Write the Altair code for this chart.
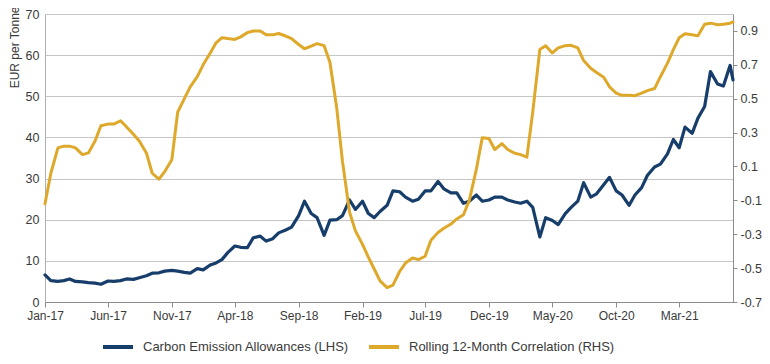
import altair as alt
import pandas as pd

# Semi-monthly observation dates (1st and 15th), Jan-2017 .. early Jul-2021
DATES = [f"{y}-{m:02d}-{d:02d}" for y in range(2017, 2022) for m in range(1, 13) for d in (1, 15)][:109] + ["2021-07-08"]

CEA = [6.6, 5.2, 5.0, 5.2, 5.6, 5.0, 4.9, 4.7, 4.6, 4.3,
       5.1, 5.0, 5.2, 5.6, 5.5, 5.9, 6.4, 7.0, 7.1, 7.5,
       7.7, 7.5, 7.2, 7.0, 8.1, 7.8, 9.0, 9.5, 10.3, 12.0,
       13.6, 13.3, 13.2, 15.6, 16.0, 14.8, 15.4, 16.8, 17.5, 18.2,
       21.0, 24.5, 21.5, 20.5, 16.2, 19.9, 20.0, 21.0, 24.8, 22.5,
       24.5, 21.5, 20.5, 22.0, 23.5, 27.0, 26.8, 25.5, 24.5, 25.0,
       27.0, 27.0, 29.3, 27.5, 26.5, 26.5, 24.0, 24.5, 26.0, 24.5,
       24.8, 25.5, 25.5, 24.8, 24.3, 24.0, 24.5, 23.0, 15.8, 20.5,
       19.8, 18.8, 21.5, 23.0, 24.5, 29.0, 25.5, 26.3, 28.5, 30.3,
       27.0, 26.0, 23.5, 26.0, 27.8, 30.8, 32.8, 33.5, 36.0, 39.5,
       37.5, 42.5, 41.0, 44.7, 47.5, 56.0, 53.0, 52.5, 57.5, 54.0]

CORR = [-0.12, 0.06, 0.21, 0.22, 0.22, 0.21, 0.17, 0.18, 0.25, 0.34,
        0.35, 0.35, 0.37, 0.335, 0.29, 0.25, 0.18, 0.06, 0.025, 0.07,
        0.14, 0.42, 0.50, 0.57, 0.63, 0.70, 0.77, 0.83, 0.86, 0.855,
        0.85, 0.865, 0.89, 0.90, 0.90, 0.877, 0.877, 0.885, 0.87, 0.855,
        0.82, 0.795, 0.81, 0.825, 0.813, 0.714, 0.45, 0.13, -0.17, -0.28,
        -0.36, -0.435, -0.505, -0.575, -0.615, -0.60, -0.52, -0.47, -0.44, -0.45,
        -0.43, -0.335, -0.29, -0.265, -0.24, -0.21, -0.185, -0.10, 0.085, 0.27,
        0.265, 0.20, 0.235, 0.20, 0.178, 0.17, 0.155, 0.42, 0.79, 0.813,
        0.77, 0.80, 0.813, 0.815, 0.80, 0.725, 0.68, 0.655, 0.627, 0.57,
        0.533, 0.52, 0.52, 0.518, 0.533, 0.548, 0.56, 0.63, 0.71, 0.79,
        0.86, 0.883, 0.877, 0.871, 0.94, 0.946, 0.937, 0.94, 0.946, 0.953]

SERIES = ["Carbon Emission Allowances (LHS)", "Rolling 12-Month Correlation (RHS)"]
COLORS = ["#173e6b", "#dea92b"]
LEFT_TICKS = [0, 10, 20, 30, 40, 50, 60, 70]
RIGHT_TICKS = [-0.7, -0.5, -0.3, -0.1, 0.1, 0.3, 0.5, 0.7, 0.9]
X_TICKS = [(2017, 1), (2017, 6), (2017, 11), (2018, 4), (2018, 9), (2019, 2),
           (2019, 7), (2019, 12), (2020, 5), (2020, 10), (2021, 3)]

df = pd.DataFrame({"date": DATES, "cea": CEA, "corr": CORR})

FONT = "Liberation Sans"
TXT = "#3a3a3a"
AX = "#8c8c8c"

color_scale = alt.Scale(domain=SERIES, range=COLORS)
legend = alt.Legend(
    title=None, orient="none", legendX=56, legendY=316, direction="horizontal",
    columns=2, symbolType="stroke", symbolStrokeWidth=4, symbolSize=900,
    labelFontSize=13, labelFont=FONT, labelColor=TXT, labelLimit=400,
    labelOffset=8, columnPadding=12,
)

x_enc = alt.X(
    "date:T",
    scale=alt.Scale(type="utc", domain=["2017-01-01", "2021-07-08"], nice=False),
    axis=alt.Axis(
        values=[alt.DateTime(year=y, month=m, date=1, utc=True) for y, m in X_TICKS],
        format="%b-%y", title=None, grid=False, labelFlush=False, labelOverlap=False,
        tickSize=5, tickColor=AX, domainColor=AX, labelFont=FONT, labelFontSize=12,
        labelColor=TXT, labelPadding=3,
    ),
)

base = alt.Chart(df)

blue = base.transform_calculate(series=f"'{SERIES[0]}'").mark_line(
    strokeWidth=3.2, strokeJoin="round", strokeCap="round"
).encode(
    x=x_enc,
    y=alt.Y(
        "cea:Q",
        scale=alt.Scale(domain=[0, 70], nice=False, zero=False),
        axis=alt.Axis(
            values=LEFT_TICKS, title="EUR per Tonne", titleFont=FONT, titleFontSize=12,
            titleFontWeight="normal", titleColor=TXT, titleAngle=270,
            titleX=-31, titleY=-8, titleAlign="right", titleBaseline="middle",
            grid=True, gridColor="#c6c6c6", gridWidth=1, ticks=False,
            domainColor="#b0b0b0", labelFont=FONT, labelFontSize=12.5, labelColor=TXT,
            labelPadding=6,
        ),
    ),
    color=alt.Color("series:N", scale=color_scale, legend=legend),
)

gold = base.transform_calculate(series=f"'{SERIES[1]}'").mark_line(
    strokeWidth=3, strokeJoin="round", strokeCap="round"
).encode(
    x=x_enc,
    y=alt.Y(
        "corr:Q",
        scale=alt.Scale(domain=[-0.7, 1.0], nice=False, zero=False),
        axis=alt.Axis(
            orient="right", values=RIGHT_TICKS, title=None, grid=False,
            labelExpr="datum.value < 0 ? '-' + format(-datum.value, '.1f') : format(datum.value, '.1f')",
            tickSize=4, tickColor=AX, domainColor=AX, labelFont=FONT, labelFontSize=12.5,
            labelColor=TXT, labelPadding=3,
        ),
    ),
    color=alt.Color("series:N", scale=color_scale, legend=legend),
)

chart = alt.layer(blue, gold).resolve_scale(y="independent").properties(
    width=688, height=288,
    padding={"left": 37, "top": 6, "right": 29, "bottom": 52},
    autosize=alt.AutoSizeParams(type="none"),
).configure_view(stroke=None)

chart.save("out.html", embed_options={"renderer": "svg", "actions": False})
